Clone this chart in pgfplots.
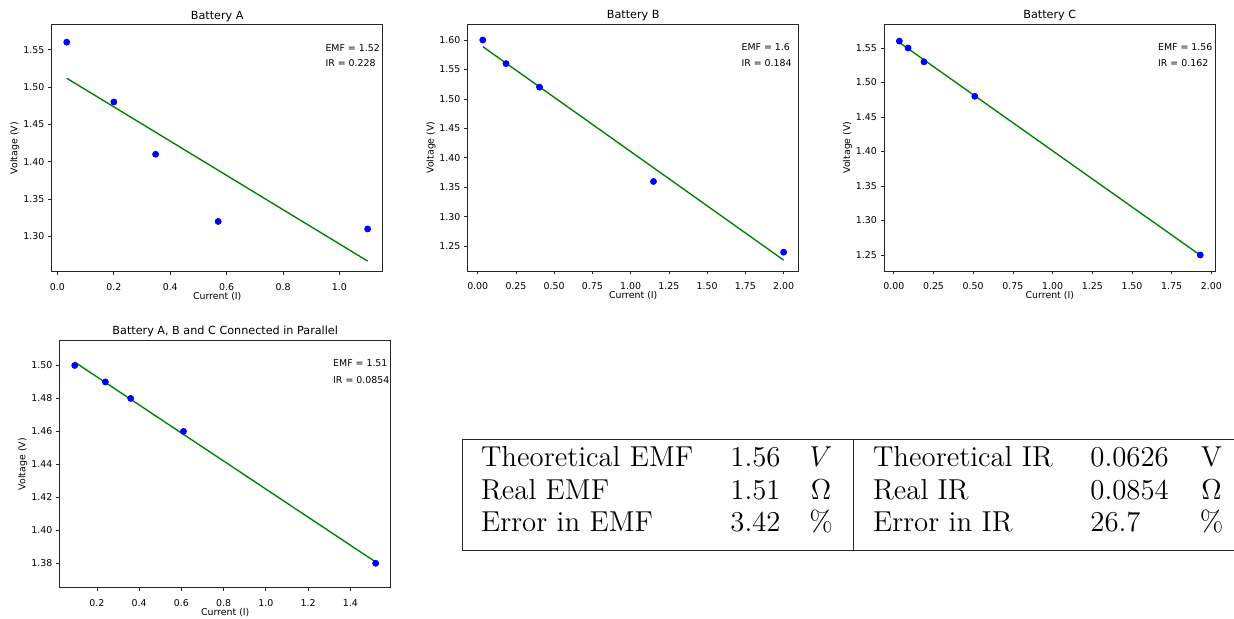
\documentclass[border=0pt]{standalone}
\usepackage{fontspec}
\usepackage{pgfplots}
\pgfplotsset{compat=1.18}
\newfontfamily\mpl{DejaVu Sans}

\definecolor{mplgreen}{RGB}{0,128,0}
\definecolor{mplblue}{RGB}{0,0,255}

\pgfplotsset{
  mpl/.style={
    scale only axis, width=165.5pt, height=123.5pt,
    anchor=south west,
    every axis title/.style={at={(0.5,1)}, anchor=base, yshift=2.6pt},
    every axis x label/.style={at={(0.5,0)}, anchor=center, yshift=-12.5pt},
    every axis y label/.style={at={(0,0.5)}, anchor=center, xshift=-18.4pt, rotate=90},
    axis line style={black!85, line width=0.45pt},
    tick align=outside, tick pos=left,
    major tick length=1.7pt,
    tick style={black!85, line width=0.4pt},
    tick label style={font=\mpl\fontsize{4.7}{5.6}\selectfont},
    /pgf/number format/assume math mode=true,
    label style={font=\mpl\fontsize{4.7}{5.6}\selectfont},
    title style={font=\mpl\fontsize{5.6}{6.7}\selectfont},
    xlabel={Current (I)}, ylabel={Voltage (V)},
    yticklabel style={xshift=1.5pt, /pgf/number format/.cd, fixed, fixed zerofill, precision=2},
    xticklabel style={yshift=-0.6pt},
    clip=false,
  },
  xprec/.style={xticklabel style={/pgf/number format/.cd, fixed, fixed zerofill, precision=#1}},
  fitline/.style={mplgreen, line width=0.68pt, no markers},
  pts/.style={only marks, mark=*, mark size=1.5pt, mark options={draw=mplblue, fill=mplblue}},
}
\tikzset{note/.style={anchor=west, font=\mpl\fontsize{4.7}{5.6}\selectfont}}

\begin{document}
\begin{tikzpicture}
\useasboundingbox (0,0) rectangle (617pt,-309.5pt);

% Battery A
\begin{axis}[mpl, at={(25.85pt,-135.85pt)}, title={Battery A}, xprec=1,
  xmin=-0.0204, xmax=1.1534, ymin=1.2528, ymax=1.5834,
  xtick={0,0.2,0.4,0.6,0.8,1.0}, ytick={1.30,1.35,1.40,1.45,1.50,1.55}]
\addplot[fitline] coordinates {(0.033,1.5117) (1.1,1.2670)};
\addplot[pts] coordinates {(0.033,1.56) (0.2,1.48) (0.348,1.41) (0.57,1.32) (1.1,1.31)};
\node[note] at (rel axis cs:0.806,0.907) {EMF = 1.52};
\node[note] at (rel axis cs:0.806,0.843) {IR = 0.228};
\end{axis}

% Battery B
\begin{axis}[mpl, at={(233.85pt,-135.5pt)}, title={Battery B}, xprec=2,
  xmin=-0.0655, xmax=2.0985, ymin=1.2081, ymax=1.6272,
  xtick={0,0.25,0.5,0.75,1.0,1.25,1.5,1.75,2.0},
  ytick={1.25,1.30,1.35,1.40,1.45,1.50,1.55,1.60}]
\addplot[fitline] coordinates {(0.033,1.5888) (2.0,1.2266)};
\addplot[pts] coordinates {(0.033,1.60) (0.185,1.56) (0.404,1.52) (1.149,1.36) (2.0,1.24)};
\node[note] at (rel axis cs:0.806,0.907) {EMF = 1.6};
\node[note] at (rel axis cs:0.806,0.843) {IR = 0.184};
\end{axis}

% Battery C
\begin{axis}[mpl, at={(442.15pt,-135.5pt)}, title={Battery C}, xprec=2,
  xmin=-0.0598, xmax=2.0248, ymin=1.2268, ymax=1.5848,
  xtick={0,0.25,0.5,0.75,1.0,1.25,1.5,1.75,2.0},
  ytick={1.25,1.30,1.35,1.40,1.45,1.50,1.55}]
\addplot[fitline] coordinates {(0.035,1.5580) (1.93,1.2497)};
\addplot[pts] coordinates {(0.035,1.56) (0.09,1.55) (0.19,1.53) (0.51,1.48) (1.93,1.25)};
\node[note] at (rel axis cs:0.806,0.907) {EMF = 1.56};
\node[note] at (rel axis cs:0.806,0.843) {IR = 0.162};
\end{axis}

% Parallel
\begin{axis}[mpl, at={(29.85pt,-293.85pt)}, title={Battery A, B and C Connected in Parallel},
  every axis title/.append style={yshift=0.3pt}, xprec=1,
  xmin=0.0238, xmax=1.5913, ymin=1.3652, ymax=1.5150,
  xtick={0.2,0.4,0.6,0.8,1.0,1.2,1.4},
  ytick={1.38,1.40,1.42,1.44,1.46,1.48,1.50}]
\addplot[fitline] coordinates {(0.095,1.5020) (1.52,1.3808)};
\addplot[pts] coordinates {(0.095,1.50) (0.24,1.49) (0.36,1.48) (0.61,1.46) (1.52,1.38)};
\node[note] at (rel axis cs:0.805,0.910) {EMF = 1.51};
\node[note] at (rel axis cs:0.805,0.842) {IR = 0.0854};
\end{axis}

% results table
\draw[line width=0.5pt, black!85] (617pt,-219.5pt) -- (231.35pt,-219.5pt) -- (231.35pt,-275pt) -- (617pt,-275pt);
\draw[line width=0.5pt, black!85] (426.65pt,-219.5pt) -- (426.65pt,-275pt);
\begin{scope}[every node/.style={inner sep=0pt, font=\fontsize{14.4}{17}\selectfont}]
\node[anchor=base west] at (240.35pt,-233.35pt) {Theoretical EMF};
\node[anchor=base west] at (240.35pt,-249.65pt) {Real EMF};
\node[anchor=base west] at (240.35pt,-265.85pt) {Error in EMF};
\node[anchor=base west] at (365pt,-233.35pt) {1.56};
\node[anchor=base west] at (365pt,-249.65pt) {1.51};
\node[anchor=base west] at (365pt,-265.85pt) {3.42};
\node[anchor=base] at (410.5pt,-233.35pt) {$V$};
\node[anchor=base] at (410.5pt,-249.65pt) {$\Omega$};
\node[anchor=base] at (410.5pt,-265.85pt) {\%};
\node[anchor=base west] at (436.35pt,-233.35pt) {Theoretical IR};
\node[anchor=base west] at (436.35pt,-249.65pt) {Real IR};
\node[anchor=base west] at (436.35pt,-265.85pt) {Error in IR};
\node[anchor=base west] at (545pt,-233.35pt) {0.0626};
\node[anchor=base west] at (545pt,-249.65pt) {0.0854};
\node[anchor=base west] at (545pt,-265.85pt) {26.7};
\node[anchor=base] at (605.75pt,-233.35pt) {V};
\node[anchor=base] at (605.75pt,-249.65pt) {$\Omega$};
\node[anchor=base] at (605.75pt,-265.85pt) {\%};
\end{scope}
\end{tikzpicture}
\end{document}
